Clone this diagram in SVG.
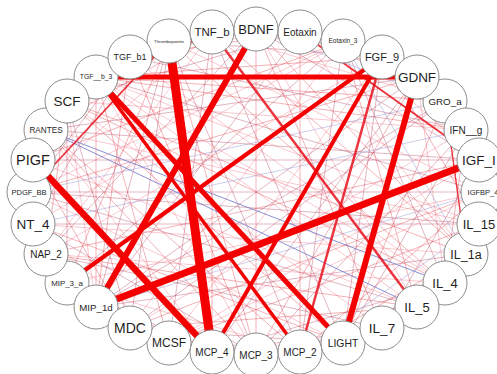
<svg xmlns="http://www.w3.org/2000/svg" width="497" height="374" viewBox="0 0 497 374">
<style>
.a{stroke:#e02030;stroke-opacity:.38;stroke-width:.9}
.b{stroke:#a82848;stroke-opacity:.42;stroke-width:.8}
.c{stroke:#f06878;stroke-opacity:.45;stroke-width:.8}
.d{stroke:#8c8ed8;stroke-opacity:.55;stroke-width:.8}
.bl{stroke:#6f74c8;stroke-opacity:.8;stroke-width:1}
.m{stroke:#e8101c;stroke-opacity:.85}
.t{stroke:#f40000}
.n circle{fill:#fff;stroke:#8c8c8c;stroke-width:1}
.n text{font-family:"Liberation Sans",Arial,sans-serif;fill:#1e1e1e;text-anchor:middle}
</style>
<rect width="497" height="374" fill="#fff"/>
<g id="connectors" fill="none" stroke-linecap="butt">
<line class="a" x1="256" y1="29" x2="382" y2="57"/>
<line class="b" x1="256" y1="29" x2="479" y2="160"/>
<line class="c" x1="256" y1="29" x2="417" y2="307"/>
<line class="a" x1="256" y1="29" x2="256" y2="355"/>
<line class="b" x1="300" y1="32" x2="445" y2="101"/>
<line class="c" x1="300" y1="32" x2="466" y2="254"/>
<line class="a" x1="300" y1="32" x2="300" y2="352"/>
<line class="b" x1="300" y1="32" x2="96" y2="307"/>
<line class="c" x1="343" y1="41" x2="479" y2="160"/>
<line class="a" x1="343" y1="41" x2="417" y2="307"/>
<line class="b" x1="343" y1="41" x2="300" y2="352"/>
<line class="c" x1="343" y1="41" x2="29" y2="192"/>
<line class="a" x1="382" y1="57" x2="479" y2="224"/>
<line class="b" x1="382" y1="57" x2="343" y2="343"/>
<line class="c" x1="382" y1="57" x2="169" y2="343"/>
<line class="a" x1="382" y1="57" x2="96" y2="77"/>
<line class="b" x1="417" y1="77" x2="479" y2="160"/>
<line class="c" x1="417" y1="77" x2="445" y2="283"/>
<line class="a" x1="417" y1="77" x2="256" y2="355"/>
<line class="b" x1="417" y1="77" x2="96" y2="307"/>
<line class="c" x1="445" y1="101" x2="479" y2="224"/>
<line class="a" x1="445" y1="101" x2="343" y2="343"/>
<line class="b" x1="445" y1="101" x2="130" y2="328"/>
<line class="d" x1="445" y1="101" x2="29" y2="192"/>
<line class="a" x1="466" y1="130" x2="445" y2="283"/>
<line class="b" x1="466" y1="130" x2="256" y2="355"/>
<line class="c" x1="466" y1="130" x2="130" y2="328"/>
<line class="a" x1="466" y1="130" x2="96" y2="77"/>
<line class="b" x1="479" y1="160" x2="382" y2="328"/>
<line class="c" x1="479" y1="160" x2="169" y2="343"/>
<line class="a" x1="479" y1="160" x2="46" y2="254"/>
<line class="b" x1="479" y1="160" x2="46" y2="130"/>
<line class="c" x1="483" y1="192" x2="445" y2="283"/>
<line class="a" x1="483" y1="192" x2="300" y2="352"/>
<line class="d" x1="483" y1="192" x2="96" y2="307"/>
<line class="b" x1="483" y1="192" x2="29" y2="192"/>
<line class="c" x1="479" y1="224" x2="382" y2="328"/>
<line class="a" x1="479" y1="224" x2="169" y2="343"/>
<line class="b" x1="479" y1="224" x2="33" y2="224"/>
<line class="c" x1="479" y1="224" x2="96" y2="77"/>
<line class="a" x1="466" y1="254" x2="300" y2="352"/>
<line class="b" x1="466" y1="254" x2="96" y2="307"/>
<line class="c" x1="466" y1="254" x2="33" y2="224"/>
<line class="a" x1="466" y1="254" x2="256" y2="29"/>
<line class="b" x1="445" y1="283" x2="212" y2="352"/>
<line class="c" x1="445" y1="283" x2="46" y2="254"/>
<line class="a" x1="445" y1="283" x2="67" y2="101"/>
<line class="b" x1="445" y1="283" x2="343" y2="41"/>
<line class="c" x1="417" y1="307" x2="300" y2="352"/>
<line class="a" x1="417" y1="307" x2="130" y2="328"/>
<line class="b" x1="417" y1="307" x2="29" y2="192"/>
<line class="c" x1="417" y1="307" x2="96" y2="77"/>
<line class="a" x1="382" y1="328" x2="212" y2="352"/>
<line class="b" x1="382" y1="328" x2="46" y2="254"/>
<line class="c" x1="382" y1="328" x2="67" y2="101"/>
<line class="a" x1="382" y1="328" x2="256" y2="29"/>
<line class="b" x1="343" y1="343" x2="130" y2="328"/>
<line class="c" x1="343" y1="343" x2="29" y2="192"/>
<line class="a" x1="343" y1="343" x2="67" y2="101"/>
<line class="b" x1="343" y1="343" x2="466" y2="130"/>
<line class="c" x1="300" y1="352" x2="67" y2="283"/>
<line class="a" x1="300" y1="352" x2="46" y2="130"/>
<line class="b" x1="300" y1="352" x2="169" y2="41"/>
<line class="d" x1="300" y1="352" x2="479" y2="224"/>
<line class="a" x1="256" y1="355" x2="130" y2="328"/>
<line class="b" x1="256" y1="355" x2="33" y2="224"/>
<line class="c" x1="256" y1="355" x2="96" y2="77"/>
<line class="a" x1="256" y1="355" x2="169" y2="41"/>
<line class="b" x1="212" y1="352" x2="67" y2="283"/>
<line class="c" x1="212" y1="352" x2="46" y2="130"/>
<line class="a" x1="212" y1="352" x2="212" y2="32"/>
<line class="b" x1="212" y1="352" x2="417" y2="77"/>
<line class="c" x1="169" y1="343" x2="33" y2="224"/>
<line class="a" x1="169" y1="343" x2="96" y2="77"/>
<line class="b" x1="169" y1="343" x2="212" y2="32"/>
<line class="c" x1="169" y1="343" x2="483" y2="192"/>
<line class="a" x1="130" y1="328" x2="33" y2="160"/>
<line class="b" x1="130" y1="328" x2="169" y2="41"/>
<line class="c" x1="130" y1="328" x2="343" y2="41"/>
<line class="a" x1="130" y1="328" x2="483" y2="192"/>
<line class="b" x1="96" y1="307" x2="33" y2="224"/>
<line class="c" x1="96" y1="307" x2="67" y2="101"/>
<line class="a" x1="96" y1="307" x2="130" y2="57"/>
<line class="b" x1="96" y1="307" x2="445" y2="101"/>
<line class="c" x1="67" y1="283" x2="33" y2="160"/>
<line class="a" x1="67" y1="283" x2="169" y2="41"/>
<line class="b" x1="67" y1="283" x2="343" y2="41"/>
<line class="c" x1="67" y1="283" x2="483" y2="192"/>
<line class="a" x1="46" y1="254" x2="67" y2="101"/>
<line class="b" x1="46" y1="254" x2="256" y2="29"/>
<line class="c" x1="46" y1="254" x2="382" y2="57"/>
<line class="a" x1="46" y1="254" x2="417" y2="307"/>
<line class="b" x1="33" y1="224" x2="130" y2="57"/>
<line class="c" x1="33" y1="224" x2="343" y2="41"/>
<line class="d" x1="33" y1="224" x2="466" y2="130"/>
<line class="a" x1="33" y1="224" x2="343" y2="343"/>
<line class="b" x1="29" y1="192" x2="67" y2="101"/>
<line class="c" x1="29" y1="192" x2="212" y2="32"/>
<line class="a" x1="29" y1="192" x2="417" y2="77"/>
<line class="b" x1="29" y1="192" x2="479" y2="224"/>
<line class="c" x1="33" y1="160" x2="130" y2="57"/>
<line class="a" x1="33" y1="160" x2="343" y2="41"/>
<line class="b" x1="33" y1="160" x2="479" y2="160"/>
<line class="c" x1="33" y1="160" x2="417" y2="307"/>
<line class="a" x1="46" y1="130" x2="212" y2="32"/>
<line class="b" x1="46" y1="130" x2="417" y2="77"/>
<line class="c" x1="46" y1="130" x2="479" y2="224"/>
<line class="a" x1="46" y1="130" x2="256" y2="355"/>
<line class="b" x1="67" y1="101" x2="300" y2="32"/>
<line class="c" x1="67" y1="101" x2="466" y2="130"/>
<line class="a" x1="67" y1="101" x2="466" y2="254"/>
<line class="b" x1="67" y1="101" x2="130" y2="328"/>
<line class="c" x1="96" y1="77" x2="256" y2="29"/>
<line class="a" x1="96" y1="77" x2="445" y2="101"/>
<line class="b" x1="96" y1="77" x2="483" y2="192"/>
<line class="c" x1="96" y1="77" x2="445" y2="283"/>
<line class="a" x1="130" y1="57" x2="300" y2="32"/>
<line class="b" x1="130" y1="57" x2="466" y2="130"/>
<line class="c" x1="130" y1="57" x2="445" y2="283"/>
<line class="a" x1="130" y1="57" x2="256" y2="355"/>
<line class="b" x1="169" y1="41" x2="382" y2="57"/>
<line class="c" x1="169" y1="41" x2="483" y2="192"/>
<line class="a" x1="169" y1="41" x2="445" y2="283"/>
<line class="b" x1="169" y1="41" x2="96" y2="307"/>
<line class="c" x1="212" y1="32" x2="445" y2="101"/>
<line class="a" x1="212" y1="32" x2="466" y2="254"/>
<line class="b" x1="212" y1="32" x2="343" y2="343"/>
<line class="c" x1="212" y1="32" x2="46" y2="254"/>
<line class="b" x1="67" y1="101" x2="67" y2="283"/>
<line class="a" x1="96" y1="77" x2="96" y2="307"/>
<line class="c" x1="46" y1="130" x2="46" y2="254"/>
<line class="a" x1="479" y1="224" x2="445" y2="101"/>
<line class="b" x1="466" y1="254" x2="466" y2="130"/>
<line class="c" x1="382" y1="328" x2="466" y2="254"/>
<line class="a" x1="300" y1="32" x2="417" y2="77"/>
<line class="b" x1="212" y1="32" x2="343" y2="41"/>
<line class="c" x1="130" y1="328" x2="46" y2="254"/>
<line class="a" x1="169" y1="343" x2="300" y2="352"/>
<line class="b" x1="130" y1="57" x2="29" y2="192"/>
<line class="c" x1="382" y1="57" x2="466" y2="130"/>
<line class="a" x1="343" y1="343" x2="445" y2="283"/>
<line class="b" x1="212" y1="352" x2="96" y2="307"/>
<line class="bl" x1="46" y1="130" x2="445" y2="283"/>
<line class="bl" x1="46" y1="130" x2="417" y2="307" stroke-width=".8"/>
<line class="d" x1="382" y1="328" x2="479" y2="224"/>
<line class="d" x1="256" y1="29" x2="445" y2="101"/>
<line class="d" x1="343" y1="41" x2="466" y2="254"/>
<line class="m" x1="445" y1="101" x2="466" y2="254" stroke-width="1.4"/>
<line class="m" x1="169" y1="41" x2="29" y2="192" stroke-width="1.8"/>
<line class="m" x1="300" y1="32" x2="479" y2="160" stroke-width="1.8"/>
<line class="m" x1="212" y1="32" x2="417" y2="307" stroke-width="2.5"/>
<line class="m" x1="382" y1="57" x2="300" y2="352" stroke-width="2.5"/>
<line class="t" x1="96" y1="77" x2="300" y2="352" stroke-width="3.5"/>
<line class="t" x1="382" y1="57" x2="67" y2="283" stroke-width="4"/>
<line class="t" x1="382" y1="57" x2="212" y2="352" stroke-width="4"/>
<line class="t" x1="96" y1="77" x2="417" y2="77" stroke-width="5"/>
<line class="t" x1="96" y1="77" x2="212" y2="32" stroke-width="5"/>
<line class="t" x1="96" y1="77" x2="343" y2="343" stroke-width="5"/>
<line class="t" x1="417" y1="77" x2="343" y2="343" stroke-width="6"/>
<line class="t" x1="256" y1="29" x2="96" y2="307" stroke-width="6"/>
<line class="t" x1="33" y1="160" x2="212" y2="352" stroke-width="6.5"/>
<line class="t" x1="479" y1="160" x2="96" y2="307" stroke-width="7"/>
<line class="t" x1="169" y1="41" x2="212" y2="352" stroke-width="9"/>
</g>
<g id="n-Thrombopoietin" class="n"><circle cx="169" cy="41" r="22"/><text x="169" y="42.5" font-size="4.3">Thrombopoietin</text></g>
<g id="n-Eotaxin_3" class="n"><circle cx="343" cy="41" r="22"/><text x="343" y="43.3" font-size="6.5">Eotaxin_3</text></g>
<g id="n-TGF__b_3" class="n"><circle cx="96" cy="77" r="22"/><text x="96" y="79.4" font-size="6.8">TGF__b_3</text></g>
<g id="n-PDGF_BB" class="n"><circle cx="29" cy="192" r="22"/><text x="29" y="194.7" font-size="7.5">PDGF_BB</text></g>
<g id="n-IGFBP_4" class="n"><circle cx="483" cy="192" r="22"/><text x="483" y="194.7" font-size="7.5">IGFBP_4</text></g>
<g id="n-MIP_3_a" class="n"><circle cx="67" cy="283" r="22"/><text x="67" y="285.8" font-size="7.9">MIP_3_a</text></g>
<g id="n-RANTES" class="n"><circle cx="46" cy="130" r="22"/><text x="46" y="133" font-size="8.2">RANTES</text></g>
<g id="n-TGF_b1" class="n"><circle cx="130" cy="57" r="22"/><text x="130" y="60.2" font-size="9">TGF_b1</text></g>
<g id="n-MIP_1d" class="n"><circle cx="96" cy="307" r="22"/><text x="96" y="310.5" font-size="9.7">MIP_1d</text></g>
<g id="n-GRO_a" class="n"><circle cx="445" cy="101" r="22"/><text x="445" y="104.5" font-size="9.8">GRO_a</text></g>
<g id="n-Eotaxin" class="n"><circle cx="300" cy="32" r="22"/><text x="300" y="35.6" font-size="10">Eotaxin</text></g>
<g id="n-IFN__g" class="n"><circle cx="466" cy="130" r="22"/><text x="466" y="133.6" font-size="10">IFN__g</text></g>
<g id="n-NAP_2" class="n"><circle cx="46" cy="254" r="22"/><text x="46" y="257.6" font-size="10">NAP_2</text></g>
<g id="n-MCP_2" class="n"><circle cx="300" cy="352" r="22"/><text x="300" y="355.6" font-size="10">MCP_2</text></g>
<g id="n-MCP_3" class="n"><circle cx="256" cy="355" r="22"/><text x="256" y="358.6" font-size="10">MCP_3</text></g>
<g id="n-MCP_4" class="n"><circle cx="212" cy="352" r="22"/><text x="212" y="355.6" font-size="10">MCP_4</text></g>
<g id="n-LIGHT" class="n"><circle cx="343" cy="343" r="22"/><text x="343" y="346.7" font-size="10.4">LIGHT</text></g>
<g id="n-FGF_9" class="n"><circle cx="382" cy="57" r="22"/><text x="382" y="61" font-size="11">FGF_9</text></g>
<g id="n-TNF_b" class="n"><circle cx="212" cy="32" r="22"/><text x="212" y="36.1" font-size="11.5">TNF_b</text></g>
<g id="n-MCSF" class="n"><circle cx="169" cy="343" r="22"/><text x="169" y="347.3" font-size="12">MCSF</text></g>
<g id="n-IL_1a" class="n"><circle cx="466" cy="254" r="22"/><text x="466" y="258.5" font-size="12.5">IL_1a</text></g>
<g id="n-BDNF" class="n"><circle cx="256" cy="29" r="22"/><text x="256" y="33.7" font-size="13">BDNF</text></g>
<g id="n-IL_15" class="n"><circle cx="479" cy="224" r="22"/><text x="479" y="228.7" font-size="13">IL_15</text></g>
<g id="n-IL_4" class="n"><circle cx="445" cy="283" r="22"/><text x="445" y="287.7" font-size="13">IL_4</text></g>
<g id="n-IL_5" class="n"><circle cx="417" cy="307" r="22"/><text x="417" y="311.7" font-size="13">IL_5</text></g>
<g id="n-GDNF" class="n"><circle cx="417" cy="77" r="22"/><text x="417" y="81.9" font-size="13.5">GDNF</text></g>
<g id="n-IGF_I" class="n"><circle cx="479" cy="160" r="22"/><text x="479" y="164.9" font-size="13.5">IGF_I</text></g>
<g id="n-IL_7" class="n"><circle cx="382" cy="328" r="22"/><text x="382" y="332.9" font-size="13.5">IL_7</text></g>
<g id="n-NT_4" class="n"><circle cx="33" cy="224" r="22"/><text x="33" y="228.9" font-size="13.5">NT_4</text></g>
<g id="n-SCF" class="n"><circle cx="67" cy="101" r="22"/><text x="67" y="105.9" font-size="13.5">SCF</text></g>
<g id="n-MDC" class="n"><circle cx="130" cy="328" r="22"/><text x="130" y="333" font-size="14">MDC</text></g>
<g id="n-PIGF" class="n"><circle cx="33" cy="160" r="22"/><text x="33" y="165.2" font-size="14.5">PIGF</text></g>
</svg>
